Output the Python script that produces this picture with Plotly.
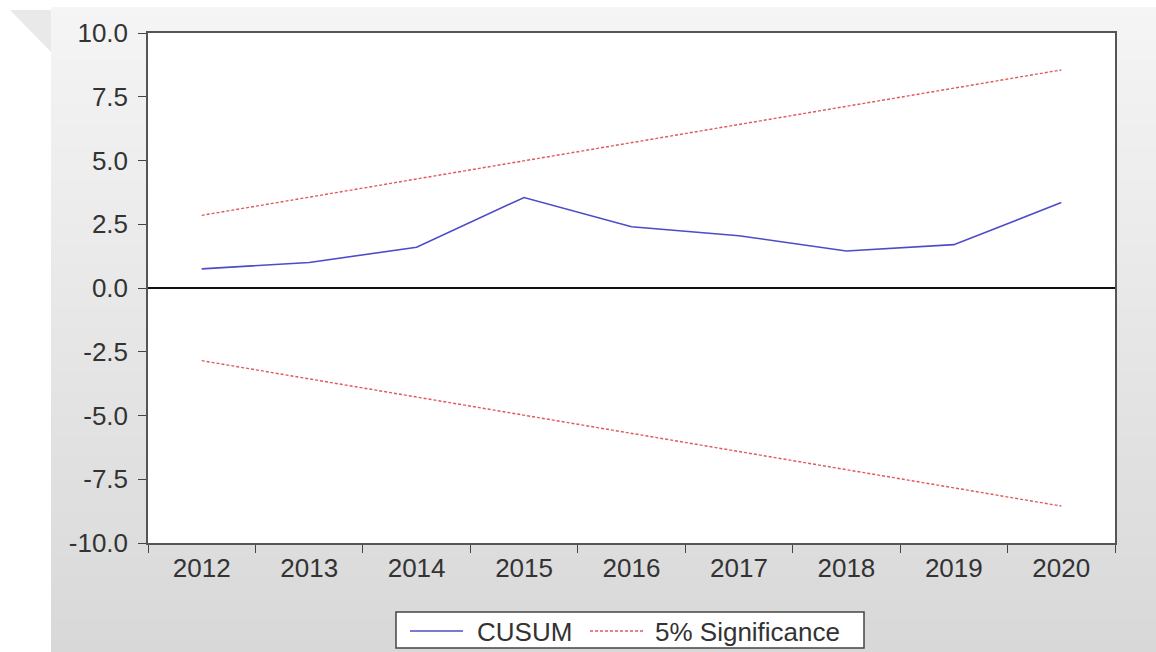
import plotly.graph_objects as go

# CUSUM stability test, 2012-2020
years = ["2012", "2013", "2014", "2015", "2016", "2017", "2018", "2019", "2020"]
cusum = [0.75, 1.0, 1.6, 3.55, 2.4, 2.05, 1.45, 1.7, 3.35]
upper_5pct = [2.85, 3.56, 4.28, 4.99, 5.70, 6.41, 7.13, 7.84, 8.55]
lower_5pct = [-2.85, -3.56, -4.28, -4.99, -5.70, -6.41, -7.13, -7.84, -8.55]
y_ticks = [10.0, 7.5, 5.0, 2.5, 0.0, -2.5, -5.0, -7.5, -10.0]
y_tick_labels = ["10.0", "7.5", "5.0", "2.5", "0.0", "-2.5", "-5.0", "-7.5", "-10.0"]
series_names = ["CUSUM", "5% Significance"]

W, H = 1156, 652
L, R, T, B = 148, 41, 33, 109
PW, PH = W - L - R, H - T - B

FONT = "Liberation Sans, Arial, sans-serif"
TXT = "#333333"
BLUE = "#4c4cc8"
RED = "#e05a5a"
RED_DASH = "3px,2px"


def px_to_paper_x(px):
    return (px - L) / PW


def px_to_paper_y(py):
    return (H - B - py) / PH


fig = go.Figure()

fig.add_trace(go.Scatter(
    x=years, y=cusum, mode="lines", name=series_names[0],
    line=dict(color=BLUE, width=1.6),
))
fig.add_trace(go.Scatter(
    x=years, y=upper_5pct, mode="lines", name=series_names[1],
    line=dict(color=RED, width=1.4, dash=RED_DASH),
))
fig.add_trace(go.Scatter(
    x=years, y=lower_5pct, mode="lines", name=series_names[1],
    line=dict(color=RED, width=1.4, dash=RED_DASH),
))

# vertical gray gradient behind the chart frame
shapes = []
n_bands = 60
top_px, bot_px = 7, H
c0, c1 = 245, 216
for i in range(n_bands):
    y0 = top_px + (bot_px - top_px) * i / n_bands
    y1 = top_px + (bot_px - top_px) * (i + 1) / n_bands + 1
    c = round(c0 + (c1 - c0) * (i + 0.5) / n_bands)
    shapes.append(dict(
        type="rect", xref="paper", yref="paper", layer="below",
        x0=px_to_paper_x(51), x1=px_to_paper_x(W + 2),
        y0=px_to_paper_y(min(y1, H + 2)), y1=px_to_paper_y(y0),
        line=dict(width=0), fillcolor=f"rgb({c},{c},{c})",
    ))

# corner fold triangle in the top-left
tri = [(10, 10), (51, 10), (51, 52)]
path = "M " + " L ".join(f"{px_to_paper_x(a)},{px_to_paper_y(b)}" for a, b in tri) + " Z"
shapes.append(dict(
    type="path", xref="paper", yref="paper", layer="below",
    path=path, line=dict(width=0), fillcolor="#e9e9e9",
))

# white plotting area
shapes.append(dict(
    type="rect", xref="paper", yref="paper", layer="below",
    x0=0, x1=1, y0=0, y1=1, line=dict(width=0), fillcolor="white",
))

# legend box below the axis, EViews style
leg_top, leg_bot, leg_mid = 612, 648, 631
shapes.append(dict(
    type="rect", xref="paper", yref="paper", layer="above",
    x0=px_to_paper_x(396), x1=px_to_paper_x(864),
    y0=px_to_paper_y(leg_bot), y1=px_to_paper_y(leg_top),
    line=dict(color="#444444", width=1.5), fillcolor="white",
))
shapes.append(dict(
    type="line", xref="paper", yref="paper", layer="above",
    x0=px_to_paper_x(410), x1=px_to_paper_x(463),
    y0=px_to_paper_y(leg_mid), y1=px_to_paper_y(leg_mid),
    line=dict(color=BLUE, width=1.6),
))
shapes.append(dict(
    type="line", xref="paper", yref="paper", layer="above",
    x0=px_to_paper_x(590), x1=px_to_paper_x(643),
    y0=px_to_paper_y(leg_mid), y1=px_to_paper_y(leg_mid),
    line=dict(color=RED, width=1.4, dash=RED_DASH),
))
annotations = [
    dict(text=series_names[0], xref="paper", yref="paper",
         x=px_to_paper_x(475), y=px_to_paper_y(leg_mid + 1),
         xanchor="left", yanchor="middle", showarrow=False,
         font=dict(family=FONT, size=26, color=TXT)),
    dict(text=series_names[1], xref="paper", yref="paper",
         x=px_to_paper_x(653), y=px_to_paper_y(leg_mid + 1),
         xanchor="left", yanchor="middle", showarrow=False,
         font=dict(family=FONT, size=26, color=TXT)),
]

fig.update_layout(
    width=W, height=H,
    margin=dict(l=L, r=R, t=T, b=B, autoexpand=False),
    paper_bgcolor="white",
    plot_bgcolor="white",
    shapes=shapes,
    annotations=annotations,
    font=dict(family=FONT, size=26, color=TXT),
    showlegend=False,
)

fig.update_xaxes(
    type="category",
    categoryorder="array", categoryarray=years,
    range=[-0.5, len(years) - 0.5],
    tickson="boundaries",
    ticks="outside", ticklen=8, tickwidth=1.2, tickcolor="#444444",
    showline=True, linecolor="#555555", linewidth=1.5, mirror=True,
    showgrid=False, zeroline=False, automargin=False,
    tickfont=dict(family=FONT, size=26, color=TXT),
    ticklabelstandoff=1,
)
fig.update_yaxes(
    range=[-10, 10],
    tickmode="array", tickvals=y_ticks, ticktext=y_tick_labels,
    ticks="outside", ticklen=8, tickwidth=1.2, tickcolor="#444444",
    showline=True, linecolor="#555555", linewidth=1.5, mirror=True,
    showgrid=False, automargin=False,
    zeroline=True, zerolinecolor="#111111", zerolinewidth=1.5,
    tickfont=dict(family=FONT, size=26, color=TXT),
    ticklabelstandoff=5,
)

fig.write_html("out.html")
